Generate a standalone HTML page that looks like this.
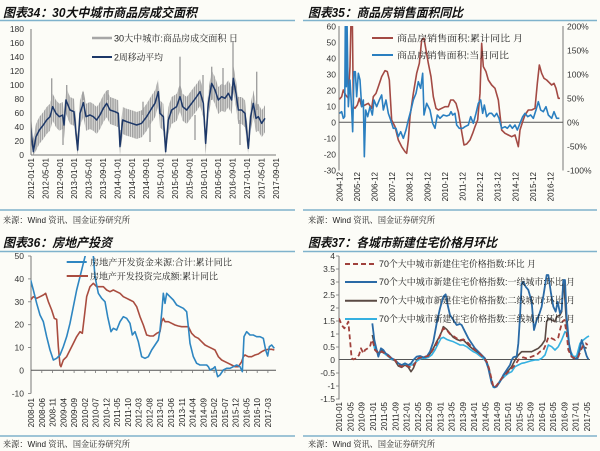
<!DOCTYPE html>
<html><head><meta charset="utf-8"><style>
html,body{margin:0;padding:0;background:#fcfcf7;}
svg{display:block;}
.t{font-family:"Liberation Sans","Noto Sans CJK SC",sans-serif;font-weight:bold;font-style:italic;font-size:12.5px;fill:#111;}
.lg{font-family:"Liberation Sans","Noto Serif CJK SC",serif;font-size:9px;fill:#222;}
.src{font-family:"Liberation Sans","Noto Serif CJK SC",serif;font-size:8.5px;fill:#222;}
.ax{font-family:"Liberation Sans",sans-serif;font-size:8.5px;fill:#333;}
.xl{font-family:"Liberation Sans",sans-serif;font-size:8px;fill:#222;}
</style></head><body>
<svg width="600" height="451" viewBox="0 0 600 451" xmlns="http://www.w3.org/2000/svg">
<rect width="600" height="451" fill="#fcfcf7"/>
<defs>
<clipPath id="c1" clipPathUnits="userSpaceOnUse"><rect x="92" y="88" width="736" height="377"/></clipPath>
<clipPath id="c2" clipPathUnits="userSpaceOnUse"><rect x="118" y="78" width="672" height="432"/></clipPath>
<clipPath id="c3" clipPathUnits="userSpaceOnUse"><rect x="17" y="18" width="740" height="411"/></clipPath>
<clipPath id="c4" clipPathUnits="userSpaceOnUse"><rect x="12" y="18" width="760" height="430"/></clipPath>
<pattern id="vs" x="0" y="0" width="2.2" height="10" patternUnits="userSpaceOnUse"><rect x="0" y="0" width="1.6" height="10" fill="#a2a2a2"/></pattern>
</defs>

<!-- ===== Titles & separators ===== -->
<text class="t" x="3" y="17" textLength="194" lengthAdjust="spacingAndGlyphs">图表34：30大中城市商品房成交面积</text>
<text class="t" x="308" y="17" textLength="155" lengthAdjust="spacingAndGlyphs">图表35：商品房销售面积同比</text>
<text class="t" x="3" y="247" textLength="109" lengthAdjust="spacingAndGlyphs">图表36：房地产投资</text>
<text class="t" x="308" y="247" textLength="189" lengthAdjust="spacingAndGlyphs">图表37：各城市新建住宅价格月环比</text>
<g stroke="#7fb2cc" stroke-width="1.5">
<line x1="0" y1="20.5" x2="295" y2="20.5"/><line x1="303" y1="20.5" x2="597" y2="20.5"/>
<line x1="0" y1="210" x2="295" y2="210"/><line x1="303" y1="210" x2="597" y2="210"/>
<line x1="0" y1="251.5" x2="295" y2="251.5"/><line x1="303" y1="251.5" x2="597" y2="251.5"/>
<line x1="0" y1="436" x2="295" y2="436"/><line x1="303" y1="436" x2="597" y2="436"/>
</g>
<text class="src" x="3" y="223" textLength="127" lengthAdjust="spacingAndGlyphs">来源：Wind 资讯、国金证券研究所</text>
<text class="src" x="308" y="223" textLength="127" lengthAdjust="spacingAndGlyphs">来源：Wind 资讯、国金证券研究所</text>
<text class="src" x="3" y="447" textLength="127" lengthAdjust="spacingAndGlyphs">来源：Wind 资讯、国金证券研究所</text>
<text class="src" x="308" y="447" textLength="127" lengthAdjust="spacingAndGlyphs">来源：Wind 资讯、国金证券研究所</text>

<!-- ===== Panel 1 ===== -->
<polygon fill="url(#vs)" points="30.7,113 33.3,138.7 36,123.7 39.3,117 43.3,112 46.7,107 50,103.7 52.7,93.7 56,100.3 59.3,103.7 62.7,102 64,112 66,87 70,97 74,98.7 77.7,137 80,100.3 83.3,89.7 86,103.7 90,102 93.3,103.7 96.7,107 100,102 103.3,95.3 106.7,90.3 110,97 115,98.7 118.3,100.3 120,133.7 122.7,107 126.7,108.7 131.7,110.3 136.7,112 141.7,110.3 146.7,103.7 151.7,95.3 155,90.3 158.3,78.7 160,100.3 163.3,103.7 165.7,138.7 168.3,107 171.7,97 176.7,93.7 180,83.7 182.7,93.7 186.7,97 191.7,90.3 196.7,83.7 200,78.7 203.3,90.3 205.7,130.3 208.3,90.3 211.7,70.3 215,77 218.3,87 221.7,83.7 225,85.3 228.3,80.3 231.7,87 233.3,65.3 236,80.3 238.3,97 241.7,97 245,100.3 248.3,135.3 250.7,103.7 253.3,90.3 256,105.3 258.3,103.7 261.7,110.3 265,105.3 265,132.3 261.7,137.3 258.3,130.7 256,132.3 253.3,117.3 250.7,130.7 248.3,155 245,127.3 241.7,124 238.3,124 236,107.3 233.3,92.3 231.7,114 228.3,107.3 225,112.3 221.7,110.7 218.3,114 215,104 211.7,97.3 208.3,117.3 205.7,155 203.3,117.3 200,105.7 196.7,110.7 191.7,117.3 186.7,124 182.7,120.7 180,110.7 176.7,120.7 171.7,124 168.3,134 165.7,155 163.3,130.7 160,127.3 158.3,105.7 155,117.3 151.7,122.3 146.7,130.7 141.7,137.3 136.7,139 131.7,137.3 126.7,135.7 122.7,134 120,155 118.3,127.3 115,125.7 110,124 106.7,117.3 103.3,122.3 100,129 96.7,134 93.3,130.7 90,129 86,130.7 83.3,116.7 80,127.3 77.7,155 74,125.7 70,124 66,114 64,139 62.7,129 59.3,130.7 56,127.3 52.7,120.7 50,130.7 46.7,134 43.3,139 39.3,144 36,150.7 33.3,155 30.7,140"/>
<g stroke="#a0a0a0" stroke-width="1.4">
<line x1="51.7" y1="110" x2="51.7" y2="78.3"/><line x1="66.7" y1="100" x2="66.7" y2="85"/>
<line x1="83" y1="100" x2="83" y2="91.7"/><line x1="108" y1="100" x2="108" y2="90"/>
<line x1="143" y1="115" x2="143" y2="101.7"/><line x1="180" y1="100" x2="180" y2="56.7"/>
<line x1="203" y1="100" x2="203" y2="75"/><line x1="211.7" y1="100" x2="211.7" y2="66.7"/>
<line x1="223" y1="100" x2="223" y2="68"/><line x1="233" y1="90" x2="233" y2="41"/>
<line x1="256.7" y1="110" x2="256.7" y2="71.7"/>
<line x1="63" y1="125" x2="63" y2="145"/><line x1="120" y1="130" x2="120" y2="145"/>
<line x1="150" y1="120" x2="150" y2="142"/><line x1="195" y1="115" x2="195" y2="140"/>
<line x1="240" y1="120" x2="240" y2="145"/>
</g>
<g transform="scale(0.33333)" clip-path="url(#c1)" fill="none" stroke-linejoin="round">
<polyline vector-effect="non-scaling-stroke" stroke="#1c3768" stroke-width="1.5" points="92,378 100,455 108,410 118,390 130,375 140,360 150,350 158,320 168,340 178,350 188,345 192,375 198,300 210,330 222,335 233,450 240,340 250,308 258,350 270,345 280,350 290,360 300,345 310,325 320,310 330,330 345,335 355,340 360,440 368,360 380,365 395,370 410,375 425,370 440,350 455,325 465,310 475,275 480,340 490,350 497,455 505,360 515,330 530,320 540,290 548,320 560,330 575,310 590,290 600,275 610,310 617,430 625,310 635,250 645,270 655,300 665,290 675,295 685,280 695,300 700,235 708,280 715,330 725,330 735,340 745,445 752,350 760,310 768,355 775,350 785,370 795,355"/>
</g>
<g stroke="#777" stroke-width="1">
<line x1="31" y1="29" x2="31" y2="155"/><line x1="31" y1="155" x2="276" y2="155"/>
</g>
<g class="ax" text-anchor="end">
<text x="24" y="32">180</text><text x="24" y="46">160</text><text x="24" y="60">140</text><text x="24" y="74">120</text><text x="24" y="88">100</text><text x="24" y="102">80</text><text x="24" y="116">60</text><text x="24" y="130">40</text><text x="24" y="144">20</text><text x="24" y="158">0</text>
</g>
<g class="xl" text-anchor="end">
<text transform="translate(34,158) rotate(-90)">2012-01-01</text>
<text transform="translate(48.4,158) rotate(-90)">2012-05-01</text>
<text transform="translate(62.8,158) rotate(-90)">2012-09-01</text>
<text transform="translate(77.2,158) rotate(-90)">2013-01-01</text>
<text transform="translate(91.6,158) rotate(-90)">2013-05-01</text>
<text transform="translate(106,158) rotate(-90)">2013-09-01</text>
<text transform="translate(120.4,158) rotate(-90)">2014-01-01</text>
<text transform="translate(134.8,158) rotate(-90)">2014-05-01</text>
<text transform="translate(149.2,158) rotate(-90)">2014-09-01</text>
<text transform="translate(163.6,158) rotate(-90)">2015-01-01</text>
<text transform="translate(178,158) rotate(-90)">2015-05-01</text>
<text transform="translate(192.4,158) rotate(-90)">2015-09-01</text>
<text transform="translate(206.8,158) rotate(-90)">2016-01-01</text>
<text transform="translate(221.2,158) rotate(-90)">2016-05-01</text>
<text transform="translate(235.6,158) rotate(-90)">2016-09-01</text>
<text transform="translate(250,158) rotate(-90)">2017-01-01</text>
<text transform="translate(264.4,158) rotate(-90)">2017-05-01</text>
<text transform="translate(278.8,158) rotate(-90)">2017-09-01</text>
</g>
<line x1="92" y1="38" x2="112" y2="38" stroke="#a6a6a6" stroke-width="2.5"/>
<line x1="92" y1="57" x2="112" y2="57" stroke="#1c3768" stroke-width="2"/>
<text class="lg" x="114" y="41.5" textLength="124" lengthAdjust="spacingAndGlyphs">30大中城市:商品房成交面积  日</text>
<text class="lg" x="114" y="60.5" textLength="49" lengthAdjust="spacingAndGlyphs">2周移动平均</text>

<!-- ===== Panel 2 ===== -->
<g stroke="#777" stroke-width="1">
<line x1="339" y1="26" x2="339" y2="170.5"/><line x1="563" y1="26" x2="563" y2="170.5"/>
<line x1="339" y1="122.3" x2="563" y2="122.3" stroke="#555"/>
</g>
<g transform="translate(300,0) scale(0.33333)" clip-path="url(#c2)" fill="none" stroke-linejoin="round">
<polyline vector-effect="non-scaling-stroke" stroke="#a34a44" stroke-width="1.6" points="118,298 125,290 130,270 137,285 145,295 150,200 153,60 157,60 160,320 165,325 172,315 178,295 185,320 195,315 205,310 215,325 220,290 228,280 235,260 245,230 255,212 262,215 268,240 275,360 285,380 295,420 305,440 315,455 320,460 325,420 330,350 340,280 350,220 358,190 365,120 372,115 378,150 385,190 393,230 400,290 408,325 415,330 425,325 435,320 445,320 452,300 460,300 468,310 475,335 485,395 492,435 500,432 510,420 518,400 525,380 533,360 540,280 545,130 550,200 558,215 565,240 575,255 585,265 595,300 605,390 615,400 625,405 635,410 645,405 655,440 660,390 668,365 675,345 685,330 695,330 705,325 712,250 718,195 725,220 732,235 740,240 748,248 755,255 762,250 768,265 775,295 780,295"/>
<polyline vector-effect="non-scaling-stroke" stroke="#2a7fc0" stroke-width="1.6" points="118,340 125,335 130,355 134,350 136,60 139,260 141,60 145,320 150,240 155,330 158,395 162,215 166,215 170,290 175,220 180,240 185,320 190,300 193,470 197,330 203,350 210,320 217,345 222,300 230,320 238,300 245,285 250,330 258,300 265,340 272,360 280,385 288,385 295,410 302,395 310,415 318,390 325,360 333,330 340,300 348,280 355,245 362,265 368,220 372,345 380,310 390,330 398,370 405,385 412,345 420,355 430,345 440,348 448,345 453,335 458,345 465,340 470,375 478,385 488,385 495,380 505,375 512,350 520,370 528,340 535,310 542,300 548,340 553,315 560,350 568,340 575,340 583,350 590,340 597,355 605,385 615,380 622,385 630,375 637,385 645,375 652,390 660,370 668,350 675,340 683,350 692,345 700,355 708,330 715,305 722,330 730,335 738,320 745,345 755,355 762,335 770,355 778,355"/>
</g>
<g class="ax" text-anchor="end">
<text x="336" y="29.3">60</text><text x="336" y="45.3">50</text><text x="336" y="61.3">40</text><text x="336" y="77.3">30</text><text x="336" y="93.3">20</text><text x="336" y="109.3">10</text><text x="336" y="125.3">0</text><text x="336" y="141.3">-10</text><text x="336" y="157.3">-20</text><text x="336" y="173.3">-30</text>
</g>
<g class="ax">
<text x="567" y="29.3">200%</text><text x="567" y="53.3">150%</text><text x="567" y="77.3">100%</text><text x="567" y="101.3">50%</text><text x="567" y="125.3">0%</text><text x="567" y="149.3">-50%</text><text x="567" y="173.3">-100%</text>
</g>
<g class="xl" text-anchor="end">
<text transform="translate(342.3,172) rotate(-90)">2004-12</text>
<text transform="translate(359.9,172) rotate(-90)">2005-12</text>
<text transform="translate(377.5,172) rotate(-90)">2006-12</text>
<text transform="translate(395.1,172) rotate(-90)">2007-12</text>
<text transform="translate(412.7,172) rotate(-90)">2008-12</text>
<text transform="translate(430.3,172) rotate(-90)">2009-12</text>
<text transform="translate(447.9,172) rotate(-90)">2010-12</text>
<text transform="translate(465.5,172) rotate(-90)">2011-12</text>
<text transform="translate(483.1,172) rotate(-90)">2012-12</text>
<text transform="translate(500.7,172) rotate(-90)">2013-12</text>
<text transform="translate(518.3,172) rotate(-90)">2014-12</text>
<text transform="translate(535.9,172) rotate(-90)">2015-12</text>
<text transform="translate(553.5,172) rotate(-90)">2016-12</text>
</g>
<line x1="372" y1="38" x2="393" y2="38" stroke="#a34a44" stroke-width="2"/>
<line x1="372" y1="55" x2="393" y2="55" stroke="#2a7fc0" stroke-width="2"/>
<text class="lg" x="397" y="41.5" textLength="126" lengthAdjust="spacingAndGlyphs">商品房销售面积:累计同比  月</text>
<text class="lg" x="397" y="58.5" textLength="112" lengthAdjust="spacingAndGlyphs">商品房销售面积:当月同比</text>

<!-- ===== Panel 3 ===== -->
<g stroke="#777" stroke-width="1">
<line x1="31" y1="256" x2="31" y2="393.5"/><line x1="31" y1="370.3" x2="276" y2="370.3" stroke="#555"/>
</g>
<g stroke="#777" stroke-width="0.8">
<line x1="28" y1="256" x2="31" y2="256"/><line x1="28" y1="278.9" x2="31" y2="278.9"/><line x1="28" y1="301.8" x2="31" y2="301.8"/><line x1="28" y1="324.7" x2="31" y2="324.7"/><line x1="28" y1="347.6" x2="31" y2="347.6"/><line x1="28" y1="393.4" x2="31" y2="393.4"/>
<line x1="41.8" y1="370" x2="41.8" y2="373"/><line x1="52.5" y1="370" x2="52.5" y2="373"/><line x1="63.3" y1="370" x2="63.3" y2="373"/><line x1="74.1" y1="370" x2="74.1" y2="373"/><line x1="84.9" y1="370" x2="84.9" y2="373"/><line x1="95.6" y1="370" x2="95.6" y2="373"/><line x1="106.4" y1="370" x2="106.4" y2="373"/><line x1="117.2" y1="370" x2="117.2" y2="373"/><line x1="127.9" y1="370" x2="127.9" y2="373"/><line x1="138.7" y1="370" x2="138.7" y2="373"/><line x1="149.5" y1="370" x2="149.5" y2="373"/><line x1="160.2" y1="370" x2="160.2" y2="373"/><line x1="171" y1="370" x2="171" y2="373"/><line x1="181.8" y1="370" x2="181.8" y2="373"/><line x1="192.6" y1="370" x2="192.6" y2="373"/><line x1="203.3" y1="370" x2="203.3" y2="373"/><line x1="214.1" y1="370" x2="214.1" y2="373"/><line x1="224.9" y1="370" x2="224.9" y2="373"/><line x1="235.6" y1="370" x2="235.6" y2="373"/><line x1="246.4" y1="370" x2="246.4" y2="373"/><line x1="257.2" y1="370" x2="257.2" y2="373"/><line x1="267.9" y1="370" x2="267.9" y2="373"/>
</g>
<g transform="translate(25,250) scale(0.33333)" clip-path="url(#c3)" fill="none" stroke-linejoin="round">
<polyline vector-effect="non-scaling-stroke" stroke="#a94d40" stroke-width="1.6" points="17,150 25,140 35,145 45,140 55,135 62,130 70,155 80,180 88,205 95,208 100,290 105,345 108,350 115,330 125,320 135,300 145,280 155,260 165,245 172,250 178,200 185,140 195,110 205,100 215,110 225,110 235,110 245,120 255,125 265,120 275,125 285,130 295,140 305,145 315,150 325,155 335,170 345,200 355,225 365,255 375,258 385,258 395,250 405,245 410,215 415,205 420,215 430,215 440,220 450,225 460,228 470,230 480,230 490,230 500,250 510,260 520,265 530,275 540,285 550,290 560,295 570,300 580,320 590,330 600,335 610,340 620,345 630,350 640,350 650,335 655,320 660,315 670,320 680,320 690,315 700,312 710,305 720,300 730,298 740,298 748,300"/>
<polyline vector-effect="non-scaling-stroke" stroke="#2e86c1" stroke-width="1.6" points="17,90 25,120 35,160 45,195 55,215 65,260 75,300 85,330 95,325 105,315 115,290 125,260 135,220 145,170 155,120 165,80 175,40 185,0 200,0 205,18 210,80 220,130 230,145 240,155 248,200 258,245 265,235 275,240 285,215 295,200 305,205 315,220 322,255 330,245 340,275 350,320 360,325 370,320 380,300 390,285 400,270 405,240 410,190 415,130 420,160 425,130 435,140 445,150 455,165 465,170 475,175 485,185 490,230 495,280 505,320 515,340 525,345 535,345 545,345 550,350 555,360 565,355 570,350 578,380 585,375 595,360 605,355 615,355 625,350 635,345 645,350 652,365 657,260 665,245 675,255 685,255 695,260 705,260 715,265 722,300 728,318 733,290 740,285 748,295"/>
</g>
<g class="ax" text-anchor="end">
<text x="24" y="259">50</text><text x="24" y="281.9">40</text><text x="24" y="304.8">30</text><text x="24" y="327.7">20</text><text x="24" y="350.6">10</text><text x="24" y="373.5">0</text><text x="24" y="396.4">-10</text>
</g>
<g class="xl" text-anchor="end">
<text transform="translate(34,398) rotate(-90)">2008-01</text>
<text transform="translate(44.8,398) rotate(-90)">2008-06</text>
<text transform="translate(55.5,398) rotate(-90)">2008-11</text>
<text transform="translate(66.3,398) rotate(-90)">2009-04</text>
<text transform="translate(77.1,398) rotate(-90)">2009-09</text>
<text transform="translate(87.9,398) rotate(-90)">2010-02</text>
<text transform="translate(98.6,398) rotate(-90)">2010-07</text>
<text transform="translate(109.4,398) rotate(-90)">2010-12</text>
<text transform="translate(120.2,398) rotate(-90)">2011-05</text>
<text transform="translate(130.9,398) rotate(-90)">2011-10</text>
<text transform="translate(141.7,398) rotate(-90)">2012-03</text>
<text transform="translate(152.5,398) rotate(-90)">2012-08</text>
<text transform="translate(163.2,398) rotate(-90)">2013-01</text>
<text transform="translate(174,398) rotate(-90)">2013-06</text>
<text transform="translate(184.8,398) rotate(-90)">2013-11</text>
<text transform="translate(195.6,398) rotate(-90)">2014-04</text>
<text transform="translate(206.3,398) rotate(-90)">2014-09</text>
<text transform="translate(217.1,398) rotate(-90)">2015-02</text>
<text transform="translate(227.9,398) rotate(-90)">2015-07</text>
<text transform="translate(238.6,398) rotate(-90)">2015-12</text>
<text transform="translate(249.4,398) rotate(-90)">2016-05</text>
<text transform="translate(260.2,398) rotate(-90)">2016-10</text>
<text transform="translate(270.9,398) rotate(-90)">2017-03</text>
</g>
<line x1="66.7" y1="262" x2="86.7" y2="262" stroke="#2e86c1" stroke-width="2"/>
<line x1="66.7" y1="276" x2="88" y2="276" stroke="#a94d40" stroke-width="2"/>
<text class="lg" x="90" y="265.5" textLength="142" lengthAdjust="spacingAndGlyphs">房地产开发资金来源:合计:累计同比</text>
<text class="lg" x="90" y="279.5" textLength="128" lengthAdjust="spacingAndGlyphs">房地产开发投资完成额:累计同比</text>

<!-- ===== Panel 4 ===== -->
<g stroke="#777" stroke-width="1">
<line x1="339" y1="256" x2="339" y2="399.5"/><line x1="339" y1="359.5" x2="590" y2="359.5" stroke="#555"/>
</g>
<g stroke="#777" stroke-width="0.8">
<line x1="336" y1="256" x2="339" y2="256"/><line x1="336" y1="269" x2="339" y2="269"/><line x1="336" y1="282" x2="339" y2="282"/><line x1="336" y1="295" x2="339" y2="295"/><line x1="336" y1="308" x2="339" y2="308"/><line x1="336" y1="321" x2="339" y2="321"/><line x1="336" y1="334" x2="339" y2="334"/><line x1="336" y1="347" x2="339" y2="347"/><line x1="336" y1="373" x2="339" y2="373"/><line x1="336" y1="386" x2="339" y2="386"/><line x1="336" y1="399" x2="339" y2="399"/>
</g>
<g transform="translate(335,250) scale(0.33333)" clip-path="url(#c4)" fill="none" stroke-linejoin="round">
<polyline vector-effect="non-scaling-stroke" stroke="#5a4a44" stroke-width="1.6" points="112,255 120,290 130,310 140,300 150,310 160,318 170,328 180,332 190,348 200,352 210,345 220,352 228,365 235,355 245,330 255,320 265,322 275,320 285,312 295,295 305,275 312,262 320,245 325,230 335,238 345,250 355,262 365,268 375,272 385,270 395,280 405,290 415,298 425,305 435,312 445,322 455,335 462,355 468,385 475,410 480,412 490,400 500,385 510,370 520,362 530,350 540,330 550,315 560,305 575,305 590,305 600,300 610,295 620,285 630,270 635,215 640,205 650,210 660,215 665,200 675,195 680,185 685,90 690,150 695,230 705,305 715,325 725,325 735,300 745,290 755,295"/>
<polyline vector-effect="non-scaling-stroke" stroke="#35b0e0" stroke-width="1.6" points="115,280 120,300 130,312 140,305 150,312 160,320 170,328 180,330 190,340 200,345 210,342 220,346 230,345 240,338 250,330 260,325 270,325 280,322 290,315 300,300 310,280 318,265 325,262 335,268 345,272 355,275 365,280 375,285 385,285 395,290 405,298 415,305 425,310 435,318 445,325 455,338 462,360 468,390 475,412 480,412 490,400 500,388 510,378 520,370 530,365 540,350 550,345 560,340 570,338 580,335 590,332 600,330 610,330 620,325 630,315 640,285 650,290 660,300 670,290 680,270 690,245 697,250 705,300 715,320 725,318 735,280 745,270 755,262 762,258"/>
<polyline vector-effect="non-scaling-stroke" stroke="#2a6aa6" stroke-width="1.8" points="112,220 118,270 125,300 130,320 138,295 145,300 152,310 160,315 170,325 180,330 190,340 200,345 210,340 220,345 228,340 235,330 245,320 255,318 265,322 275,320 285,305 295,275 305,220 315,175 325,140 332,133 338,165 345,195 355,210 365,225 375,222 380,225 390,245 400,265 410,280 420,295 430,305 440,315 450,325 460,355 470,400 478,412 485,410 495,395 505,375 515,360 525,345 530,330 535,322 540,320 545,320 550,280 555,200 560,100 565,95 572,110 580,120 590,155 597,240 605,210 612,195 620,170 628,120 635,75 640,75 648,130 655,170 662,185 668,155 675,190 680,180 685,90 690,90 695,200 702,280 710,320 720,325 728,325 735,295 740,270 748,295 755,318 760,328"/>
<polyline vector-effect="non-scaling-stroke" stroke="#a0413c" stroke-width="1.8" stroke-dasharray="5,3" points="12,205 20,225 28,235 35,225 40,215 45,270 50,325 55,328 65,325 72,315 78,295 85,310 90,300 98,295 105,290 110,270 115,280 120,300 130,310 140,305 150,310 160,318 170,325 180,330 190,345 200,350 210,345 220,350 230,352 240,340 250,325 260,322 270,320 280,318 290,305 300,290 310,270 318,250 325,235 335,240 345,252 355,258 365,265 375,270 385,268 395,275 405,285 415,295 425,305 435,312 445,322 455,335 462,355 468,380 475,410 480,412 490,400 500,385 510,375 520,365 530,355 540,345 550,330 555,325 565,322 575,325 585,322 595,318 605,315 615,305 625,300 632,285 640,262 650,265 660,270 670,262 675,240 682,215 688,210 695,250 700,300 710,320 720,325 730,320 738,300 745,285 752,280 758,285"/>
</g>
<g class="ax" text-anchor="end">
<text x="335" y="259">4</text><text x="335" y="272">3.5</text><text x="335" y="285">3</text><text x="335" y="298">2.5</text><text x="335" y="311">2</text><text x="335" y="324">1.5</text><text x="335" y="337">1</text><text x="335" y="350">0.5</text><text x="335" y="363">0</text><text x="335" y="376">-0.5</text><text x="335" y="389">-1</text><text x="335" y="402">-1.5</text>
</g>
<g class="xl" text-anchor="end">
<text transform="translate(342,402) rotate(-90)">2010-01</text>
<text transform="translate(353.3,402) rotate(-90)">2010-05</text>
<text transform="translate(364.5,402) rotate(-90)">2010-09</text>
<text transform="translate(375.8,402) rotate(-90)">2011-01</text>
<text transform="translate(387.1,402) rotate(-90)">2011-05</text>
<text transform="translate(398.4,402) rotate(-90)">2011-09</text>
<text transform="translate(409.6,402) rotate(-90)">2012-01</text>
<text transform="translate(420.9,402) rotate(-90)">2012-05</text>
<text transform="translate(432.2,402) rotate(-90)">2012-09</text>
<text transform="translate(443.4,402) rotate(-90)">2013-01</text>
<text transform="translate(454.7,402) rotate(-90)">2013-05</text>
<text transform="translate(466,402) rotate(-90)">2013-09</text>
<text transform="translate(477.2,402) rotate(-90)">2014-01</text>
<text transform="translate(488.5,402) rotate(-90)">2014-05</text>
<text transform="translate(499.8,402) rotate(-90)">2014-09</text>
<text transform="translate(511.1,402) rotate(-90)">2015-01</text>
<text transform="translate(522.3,402) rotate(-90)">2015-05</text>
<text transform="translate(533.6,402) rotate(-90)">2015-09</text>
<text transform="translate(544.9,402) rotate(-90)">2016-01</text>
<text transform="translate(556.1,402) rotate(-90)">2016-05</text>
<text transform="translate(567.4,402) rotate(-90)">2016-09</text>
<text transform="translate(578.7,402) rotate(-90)">2017-01</text>
<text transform="translate(589.9,402) rotate(-90)">2017-05</text>
</g>
<line x1="345" y1="264" x2="377" y2="264" stroke="#a0413c" stroke-width="2" stroke-dasharray="5,3"/>
<line x1="345" y1="282" x2="377" y2="282" stroke="#2a6aa6" stroke-width="2"/>
<line x1="345" y1="300.7" x2="377" y2="300.7" stroke="#5a4a44" stroke-width="2"/>
<line x1="345" y1="319" x2="377" y2="319" stroke="#35b0e0" stroke-width="2"/>
<text class="lg" x="379" y="267" textLength="157" lengthAdjust="spacingAndGlyphs">70个大中城市新建住宅价格指数:环比  月</text>
<text class="lg" x="379" y="285" textLength="196" lengthAdjust="spacingAndGlyphs">70个大中城市新建住宅价格指数:一线城市:环比  月</text>
<text class="lg" x="379" y="303.7" textLength="196" lengthAdjust="spacingAndGlyphs">70个大中城市新建住宅价格指数:二线城市:环比  月</text>
<text class="lg" x="379" y="322" textLength="196" lengthAdjust="spacingAndGlyphs">70个大中城市新建住宅价格指数:三线城市:环比  月</text>
</svg>
</body></html>
